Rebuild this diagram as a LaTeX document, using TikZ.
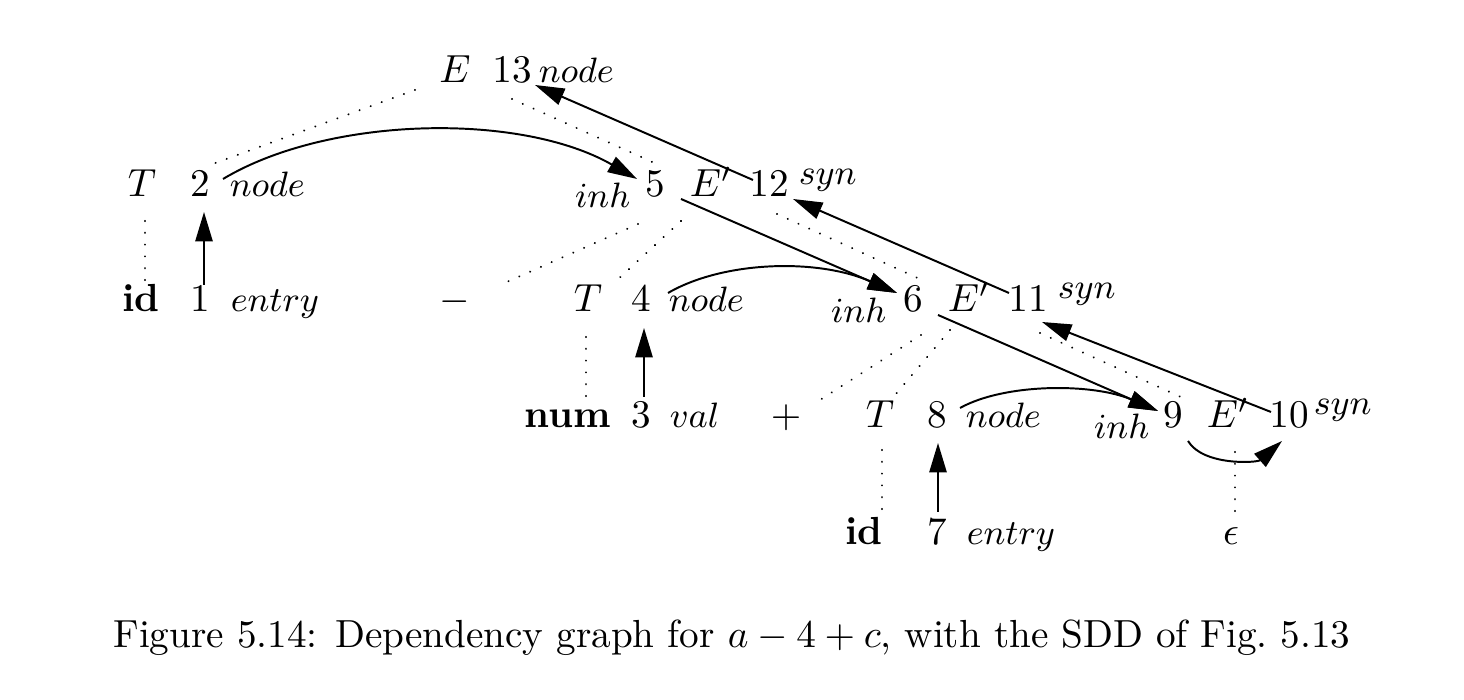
\documentclass[tikz,border=0pt]{standalone}
\usetikzlibrary{arrows.meta,calc}
\begin{document}
\begin{tikzpicture}[x=0.2552pt,y=-0.2552pt,
  sym/.style={inner sep=0pt,anchor=base,font=\fontsize{10}{12}\selectfont},
  att/.style={inner sep=0pt,anchor=base west,font=\fontsize{8.7}{10}\selectfont},
  atl/.style={inner sep=0pt,anchor=base east,font=\fontsize{8.7}{10}\selectfont},
  tree/.style={line width=0.55pt,dash pattern=on 0.01pt off 3.0pt,line cap=round},
  dep/.style={line width=0.5pt,-{Triangle[length=7.5pt,width=4.4pt]}}]
\useasboundingbox (0,0) rectangle (1464,700);
% row 1
\node[sym] (E13) at (455,83) {$E$};
\node[sym] (n13) at (512,83) {$13$};
\node[att] (a13) at (538,83) {$node$};
% row 2
\node[sym] (T2) at (142,197) {$T$};
\node[sym] (n2) at (200,197) {$2$};
\node[att] (a2) at (229,197) {$node$};
\node[atl] (i5) at (631,208) {$inh$};
\node[sym] (n5) at (655,197) {$5$};
\node[sym] (E12) at (711,197) {$E'$};
\node[sym] (n12) at (769,197) {$12$};
\node[att] (s12) at (798,185) {$syn$};
% row 3
\node[sym] (id1) at (141,312) {\textbf{id}};
\node[sym] (n1) at (200,312) {$1$};
\node[att] (a1) at (230,312) {$entry$};
\node[sym] (minus) at (455,312) {$-$};
\node[sym] (T4) at (588,312) {$T$};
\node[sym] (n4) at (641,312) {$4$};
\node[att] (a4) at (668,312) {$node$};
\node[atl] (i6) at (887,323) {$inh$};
\node[sym] (n6) at (913,312) {$6$};
\node[sym] (E11) at (969,312) {$E'$};
\node[sym] (n11) at (1028,312) {$11$};
\node[att] (s11) at (1057,299) {$syn$};
% row 4
\node[sym] (num3) at (568,428) {\textbf{num}};
\node[sym] (n3) at (641,428) {$3$};
\node[att] (a3) at (669,428) {$val$};
\node[sym] (plus) at (786,428) {$+$};
\node[sym] (T8) at (880,428) {$T$};
\node[sym] (n8) at (937,428) {$8$};
\node[att] (a8) at (965,428) {$node$};
\node[atl] (i9) at (1150,439) {$inh$};
\node[sym] (n9) at (1173,428) {$9$};
\node[sym] (E10) at (1228,428) {$E'$};
\node[sym] (n10) at (1289,428) {$10$};
\node[att] (s10) at (1313,415) {$syn$};
% row 5
\node[sym] (id7) at (864,545) {\textbf{id}};
\node[sym] (n7) at (937,545) {$7$};
\node[att] (a7) at (966,545) {$entry$};
\node[sym] (eps) at (1231,545) {$\epsilon$};
% caption
\node[sym] (cap) at (732,648) {Figure 5.14: Dependency graph for $a-4+c$, with the SDD of Fig.~5.13};
% parse tree (dotted)
\draw[tree] ($(E13.base)+(-40,7)$) -- ($(n2.base)+(10,-32)$);
\draw[tree] ($(n13.base)+(0,16)$) -- ($(n5.base)+(4,-32)$);
\draw[tree] ($(n5.base)+(-17,27)$) -- ($(minus.base)+(45,-27)$);
\draw[tree] ($(n5.base)+(26,24)$) -- ($(T4.base)+(27,-30)$);
\draw[tree] ($(n12.base)+(8,17)$) -- ($(n6.base)+(9,-32)$);
\draw[tree] ($(T2.base)+(3,24)$) -- ($(id1.base)+(4,-30)$);
\draw[tree] ($(T4.base)+(-2,25)$) -- ($(num3.base)+(18,-31)$);
\draw[tree] ($(n6.base)+(8,23)$) -- ($(plus.base)+(34,-28)$);
\draw[tree] ($(E11.base)+(-19,18)$) -- ($(T8.base)+(15,-33)$);
\draw[tree] ($(n11.base)+(12,21)$) -- ($(n9.base)+(10,-30)$);
\draw[tree] ($(T8.base)+(2,22)$) -- ($(id7.base)+(18,-33)$);
\draw[tree] ($(E10.base)+(7,24)$) -- ($(eps.base)+(4,-30)$);
% dependency edges
\draw[dep] ($(n1.base)+(4,-27)$) -- ($(n2.base)+(4,15)$);
\draw[dep] ($(n3.base)+(3,-31)$) -- ($(n4.base)+(3,16)$);
\draw[dep] ($(n7.base)+(1,-33)$) -- ($(n8.base)+(1,15)$);
\draw[dep] ($(a2.base west)+(-6,-18)$) .. controls +(105,-63) and +(-117,-67) .. ($(n5.base)+(-18,-18)$);
\draw[dep] ($(a4.base west)+(0,-19)$) .. controls +(55,-32) and +(-80,-35) .. ($(n6.base)+(-16,-19)$);
\draw[dep] ($(a8.base west)+(-5,-20)$) .. controls +(45,-25) and +(-65,-28) .. ($(n9.base)+(-15,-17)$);
\draw[dep] ($(n5.base)+(26,2)$) -- ($(n6.base)+(-16,-19)$);
\draw[dep] ($(n6.base)+(25,3)$) -- ($(n9.base)+(-15,-17)$);
\draw[dep] ($(n9.base)+(15,13)$) .. controls +(15,25) and +(-25,22) .. ($(n10.base)+(-7,13)$);
\draw[dep] ($(n10.base)+(-18,-16)$) -- ($(n11.base)+(14,10)$);
\draw[dep] ($(n11.base)+(-19,-19)$) -- ($(n12.base)+(24,2)$);
\draw[dep] ($(n12.base)+(-16,-17)$) -- ($(n13.base)+(23,2)$);
\end{tikzpicture}
\end{document}
